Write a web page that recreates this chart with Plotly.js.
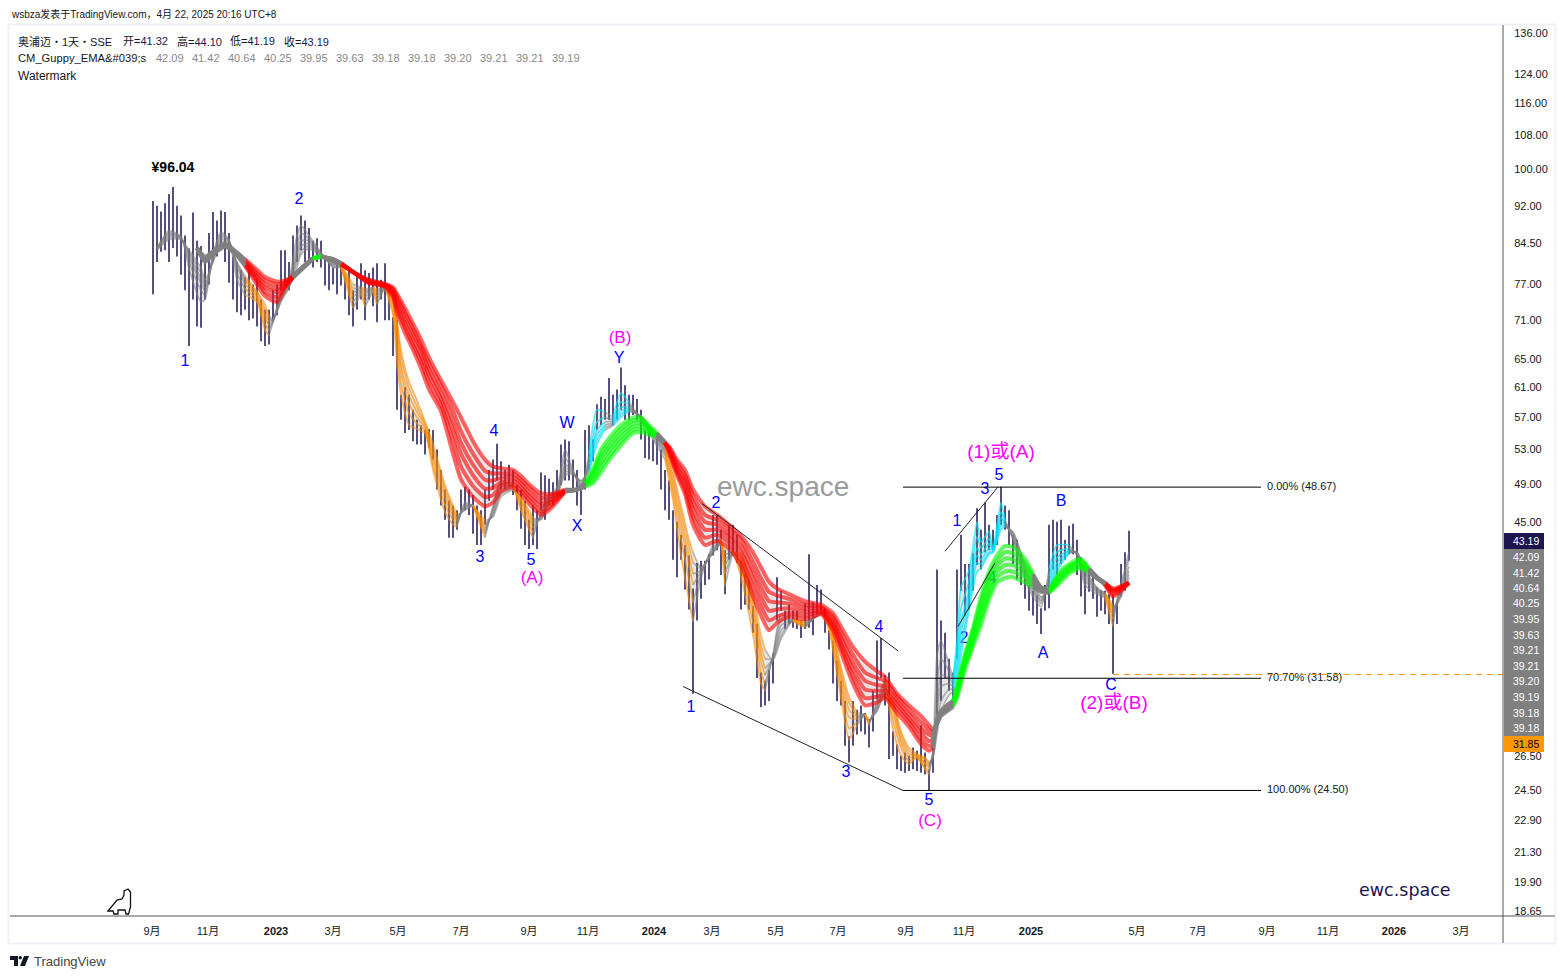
<!DOCTYPE html>
<html><head><meta charset="utf-8">
<script src="https://cdn.plot.ly/plotly-3.0.1.min.js"></script>
<style>html,body{margin:0;padding:0;background:#fff}#c{width:1565px;height:979px}</style>
</head><body><div id="c"></div>
<script>
// range bars: one entry per sample (about 2.5 trading days), starting Aug 2022
const barHigh=[93,92,90.8,92.5,94.5,96,92,90,86,83.5,90.6,85,84,81,86.5,90.7,89,91,90.7,86.5,82,81,79.5,78.2,79.5,77,77.8,74.4,72.7,72.7,76,77,83.2,83.2,81,86,88,90,89,87.5,85,85.5,85,82,81,80,81,80.2,78.7,80,76,78.7,80.8,79.5,79,80,80.8,77.8,80.8,77,71.5,71,60,61,60,58,56.7,56,55.4,55.5,55.4,53,50.6,48.4,47.2,46.7,46.2,48.4,48.7,48.4,47.8,46.7,46.2,48.4,50.6,51.8,53.7,51.6,50.6,51.2,50.6,48.9,48.4,47.2,45.2,46.7,46.2,50.3,50,49.6,49.2,50.6,53.6,54.2,54,51.8,50.6,49,55.4,56,54.2,58.7,59.7,59.4,62.3,60,60.7,63.8,61.3,60,60,59.4,58,55.4,56,54.2,55,53,50.6,49.4,46.2,45,43.7,42.7,41.7,38.7,41,41.2,41.2,41.8,45.7,45.7,44.2,42.2,44.7,44.7,43.7,41.2,39.9,39.5,37.2,35.7,32,31.4,32.2,33.4,39.7,38.5,36.8,37.3,36.8,36.8,36,37.4,41.8,37.5,39,38.6,37,35.2,34.4,32.9,31.4,30,27.7,30,29.4,29.7,29.2,28.5,30.7,34.4,34.6,31.8,32,28,27.2,26.5,26.7,26.5,27,26.8,28.4,26.7,25.7,27,40.4,36,35,33,32,40.4,43.7,40.9,40.9,41.9,46.4,44.2,47,44.7,44.2,45.7,48.7,46.7,46.2,43.7,43.2,41.8,40.4,39,38.5,38.1,37,39,44.7,45.2,45,45.2,43.2,44.6,44.8,43.2,41.5,40.9,40.4,39.8,38.8,38.5,38.5,38.2,38.2,37.6,40.9,42,44.1];
const barLow=[75.3,81,82.9,83.2,81,83.6,82,78.7,76,67,74.4,70,69.8,74.4,77,81,82,83.2,81,77.3,74.4,72.3,71.8,72.7,71,71.3,70,67.7,67,67.2,70.7,71.8,76,77,76,78.5,81,83.2,81,80.5,80,81,80,76.8,76,77,75.3,76.8,74.4,71.8,70,72.7,74.4,71,74.4,73.3,70.7,74.4,71,71,65.5,58,56.7,55,55.4,54,53.6,53.6,52.4,53.2,51.8,48.4,46.7,45.2,43.4,43.4,44.2,46,46.2,45.7,43.8,42.7,42.7,44.7,47.2,48.4,49.4,48.4,48.4,48.7,47.8,46.2,44.3,42.7,42.3,42.7,42.3,46.2,45.2,46.7,46.7,47.8,48.9,49.4,49.4,48.4,46.7,45.7,48.4,50.6,51.6,55.4,56,56.7,56.7,56,56.7,58,56.7,56.7,57.3,56.7,54.2,52,51.8,51.6,51.2,48.4,46.2,45.2,41.3,39.7,41.3,38.6,36.9,30.5,36,37.8,39,39.5,41.7,42.2,39.9,38.2,41.3,41.7,41,36.9,37.3,36.9,35,31.6,29.6,29.7,30,31.2,36,36.8,35.3,35.7,35.4,35.3,34.6,35.3,35.4,34.8,36.5,36.8,35,33.7,31.2,30,29.7,27.1,26.1,27.1,27.8,28,27.8,27,28,30.1,31.6,29.7,26.3,26.5,25.7,25.6,25.5,25.6,25.7,25.6,25.5,25.4,24.5,25.5,29.1,30,31.6,30.7,29.7,33,38.5,36.4,36.9,38.5,40.8,40.4,42,42.2,42.2,42.7,44.7,44.2,42.7,40.9,39.5,39,37.8,36.8,36.4,35.7,34.9,36.8,37,40.4,39.9,40.9,41.3,41.8,41.8,39.9,38,36.5,38.4,37.8,36.3,36.8,36.5,35.7,31.9,35.7,38,38.5,41.19];

// fast EMA group: [sample, ema1 .. ema6]
const fastEma=[
[1,83.7,83.6,83.6,83.5,83.4,83.2],[4,87,86.6,86.3,86,85.6,85.2],[7,85.8,85.7,85.6,85.5,85.4,85.2],[9,79.8,81,81.8,82.4,82.9,83.2],[12,74,76,77.2,78,79,80],[13,74.4,75.2,75.8,76.4,77,77.8],[15,82.5,82.2,81.8,81.5,81.2,81],[17,86.7,86.2,85.7,85.2,84.7,84.2],[19,85.2,85.1,85,84.8,84.6,84.2],[21,77.8,79,80,80.4,80.7,81],[23,75.2,76.2,77,77.6,78,78.5],[26,74,74.4,74.8,75.1,75.5,75.8],[28,69.4,70.4,71.3,72,72.8,73.6],[29,68.6,69.5,70.2,70.8,71.3,71.8],[30,70.7,70.8,70.9,71,71,71.1],[32,75.3,75,74.7,74.5,74.2,74],[34,77.8,77.4,77.1,76.9,76.6,76.4],[36,86,84,82.8,82,81,80],[37,88,86.4,85,84,83,82.4],[39,86,85.4,85,84.5,84,83.5],[42,82.8,82.6,82.4,82.3,82.2,82],[45,80,80.2,80.4,80.6,80.8,81],[47,80,80.1,80.2,80.3,80.4,80.6],[50,73,74,74.9,75.6,76.3,77],[52,75.3,75.6,75.9,76.1,76.3,76.5],[53,73.2,74,74.8,75.4,75.8,76.2],[55,75.8,76,76.2,76.3,76.4,76.5],[56,73.6,74.4,75,75.5,75.9,76.2],[58,76.5,76.5,76.5,76.6,76.6,76.6],[60,71.8,72.6,73.4,74,74.6,74.9],[61,64.5,66.5,68,69,70.2,71],[62,60,61.5,63,64,65.3,66.4],[64,56,57.5,58.8,59.8,60.8,61.8],[66,55.5,56.2,57,57.7,58.4,59.2],[68,55,55.3,55.6,55.9,56.2,56.5],[70,50.6,51.2,51.8,52.4,53,53.7],[73,46,46.8,47.5,48,48.5,48.9],[75,44.7,45.2,45.6,46,46.3,46.7],[76,44.5,44.7,45,45.2,45.4,45.7],[78,47,46.8,46.6,46.5,46.3,46.2],[80,46.7,46.7,46.7,46.7,46.7,46.7],[83,43.4,43.8,44.1,44.4,44.7,45.1],[85,46.7,46.4,46.1,45.9,45.7,45.5],[87,49.3,48.9,48.5,48.2,47.9,47.6],[90,48.9,48.8,48.7,48.6,48.5,48.4],[92,46.2,46.6,47,47.2,47.4,47.6],[95,43.4,43.9,44.4,44.8,45.1,45.4],[97,46,45.8,45.6,45.4,45.3,45.2],[99,47.8,47.5,47.3,47.1,47,46.9],[101,48.6,48.3,48.1,48,47.8,47.7],[103,53,52,51.2,50.8,50.4,50],[105,50.6,50.5,50.4,50.3,50.2,50.1],[107,48.4,48.7,48.9,49.1,49.3,49.4],[109,52.5,51.8,51.3,51,50.6,50.3],[111,58,56.4,55.4,54.8,54.2,53.6],[113,57.7,57,56.4,56,55.7,55.4],[115,57,56.7,56.5,56.3,56.1,55.9],[117,60.2,59,58.3,57.8,57.4,57],[119,59,58.7,58.4,58.2,58,57.8],[122,56.7,56.8,56.9,57,57.1,57.2],[125,54.2,54.5,54.7,54.9,55.1,55.2],[128,51.8,52.3,52.6,52.8,53,53.2],[130,47.2,48,48.6,49.2,49.8,50.3],[132,41.7,43.3,44.4,45.2,46,46.7],[134,37.7,39.5,40.8,41.6,42.5,43.2],[135,35.9,37.5,39,40,41,42],[137,39.6,40,40.2,40.3,40.5,40.6],[140,42.7,42.4,42.2,42.1,42,41.9],[142,43.4,43.3,43.1,43,42.9,42.9],[143,38.9,40,40.8,41.3,41.8,42.4],[145,42.2,42.1,42.1,42,42,41.9],[147,39.7,40.3,40.8,41.2,41.6,41.9],[150,34.8,35.8,36.6,37,37.6,38.2],[152,31.2,32,32.8,33.4,34,34.8],[153,30.7,31.2,31.8,32.3,33,33.7],[155,33.3,33.2,33.1,33,33,32.9],[157,36.5,36,35.6,35.2,34.8,34.5],[160,35.9,36,36,36,36.1,36.1],[163,35.4,35.5,35.6,35.7,35.8,35.9],[167,36.8,36.7,36.6,36.6,36.5,36.5],[169,35.2,35.5,35.8,35.9,36,36.2],[172,30.2,30.8,31.3,31.7,32,32.4],[174,27.5,28.2,28.9,29.4,29.9,30.3],[176,28.4,28.6,28.8,28.9,29,29.2],[178,29.1,29.1,29.1,29.1,29.1,29.1],[179,28.4,28.5,28.6,28.6,28.7,28.7],[181,30,29.8,29.6,29.5,29.4,29.3],[183,31.6,31.3,31.1,31,30.8,30.7],[185,28.1,28.7,29.2,29.6,29.8,30],[187,26.5,27,27.3,27.5,27.8,28],[189,26,26.2,26.4,26.6,26.8,27],[191,26.4,26.4,26.5,26.5,26.5,26.6],[193,25.7,25.8,26,26.1,26.3,26.4],[194,25.4,25.6,25.8,25.9,26,26.1],[195,26.8,26.7,26.6,26.5,26.4,26.4],[196,33.3,31,29.6,28.9,28.3,27.8],[197,34.4,33,31.8,31,30,29.3],[199,32.6,32.1,31.6,31.2,30.8,30.4],[200,31.6,31.4,31.2,31,30.8,30.6],[201,34.4,33.6,33,32.4,31.8,31.2],[202,38.8,37,35.8,35,34,33.2],[204,40.3,39.3,38.5,38,37.4,36.8],[206,45,43.5,42.4,41.7,41,40.2],[207,43,42.4,41.8,41.3,40.9,40.5],[209,44,43.3,42.8,42.4,42,41.8],[210,42.4,42.3,42.2,42.1,42,42],[212,47,46,45.4,45,44.6,44.2],[213,45.2,45,44.8,44.7,44.6,44.5],[215,43.2,43.4,43.5,43.7,43.9,44],[217,40.6,41,41.3,41.6,41.8,42],[219,38.6,38.9,39.2,39.4,39.7,39.9],[222,37.1,37.4,37.6,37.7,37.9,38],[224,40.4,39.8,39.4,39,38.7,38.4],[226,42.7,42,41.5,41,40.6,40.2],[229,42.7,42.4,42.2,42.1,42,41.9],[231,41.7,41.8,41.9,41.9,42,42],[233,39,39.4,39.7,40,40.2,40.4],[236,38.2,38.4,38.5,38.6,38.7,38.8],[238,37.9,38,38.1,38.2,38.3,38.3],[240,35.5,36.1,36.5,36.8,37,37.2],[241,37.7,37.6,37.5,37.5,37.4,37.3],[243,40.5,40.1,39.7,39.4,39.1,38.8],[244,42.09,41.42,40.64,40.25,39.95,39.63]];

// slow EMA group: [sample, ema1 .. ema6]
const slowEma=[
[11,83.6,83.6,83.6,83.6,83.6,83.6],[13,81,81.2,81.4,81.6,81.8,82],[15,82.4,82.5,82.6,82.7,82.9,83],[18,83.9,84,84.1,84.2,84.3,84.4],[21,82.2,82.3,82.4,82.5,82.6,82.8],[23,80.3,80.5,80.8,81,81.3,81.5],[26,77,77.6,78,78.5,79,79.6],[28,75,75.7,76.4,77,77.7,78.3],[31,74,74.8,75.7,76.3,77,77.5],[33,76.4,76.6,76.9,77.1,77.4,77.7],[35,78.2,78.2,78.3,78.3,78.4,78.5],[38,80.2,80.3,80.3,80.4,80.4,80.5],[40,81.6,81.6,81.6,81.7,81.7,81.7],[42,82.1,82.1,82.1,82.1,82,82],[45,81.2,81.3,81.3,81.4,81.5,81.6],[47,80.6,80.6,80.7,80.7,80.8,80.8],[50,79.2,79.2,79.2,79.2,79.2,79.2],[54,77.2,77.3,77.4,77.5,77.7,77.8],[58,76.6,76.7,76.8,76.9,77,77.1],[60,74.8,75.2,75.6,76,76.2,76.5],[61,72.2,72.9,73.6,74.2,74.9,75.4],[63,69,69.8,70.6,71.4,72.2,73],[65,66.4,67.2,68,68.9,69.7,70.5],[67,63.7,64.7,65.5,66.5,67,68],[69,60.7,61.7,62.7,63.5,64.4,65.3],[72,57.8,58.6,59.4,60.2,61.2,62],[75,52.5,54,55.3,56.5,57.8,59],[77,49.5,51,52.5,53.8,55.2,57],[80,47.6,48.8,50,51.2,52.5,54],[83,46.6,47.6,48.5,49.5,50.5,51.8],[85,47,47.8,48.6,49.4,50.2,51],[87,48.2,48.8,49.2,49.7,50.2,50.8],[90,48.7,49,49.4,49.8,50.2,50.6],[92,47.9,48.3,48.7,49.1,49.5,49.9],[94,46.9,47.3,47.7,48.1,48.6,49],[97,45.7,46.1,46.6,47,47.5,48],[99,46.2,46.5,46.9,47.2,47.6,47.9],[101,47.1,47.3,47.5,47.7,47.9,48.1],[103,48.2,48.2,48.3,48.3,48.3,48.4],[106,48.4,48.4,48.4,48.4,48.4,48.4],[108,49.2,49.1,49,48.9,48.8,48.7],[110,50.7,50.4,50.1,49.8,49.4,49.1],[112,53,52.5,52,51.4,50.9,50.3],[114,54.4,53.8,53.3,52.8,52.2,51.7],[117,56,55.5,55,54.5,54,53.5],[120,57,56.6,56.2,55.8,55.4,55],[122,57,56.6,56.3,55.9,55.5,55.1],[124,56,55.8,55.5,55.3,55.1,54.8],[126,55,54.9,54.8,54.7,54.6,54.5],[128,53.9,53.9,53.8,53.8,53.7,53.7],[129,52.6,52.7,52.9,53,53.2,53.4],[131,50,50.3,50.6,51,51.4,51.8],[133,47.9,48.4,49,49.5,50,50.6],[135,44.7,45.5,46.3,47,47.7,48.4],[138,42.7,43.4,44.2,45,45.7,46.6],[141,43.1,43.7,44.2,44.7,45.2,45.7],[144,42.4,42.9,43.4,43.8,44.3,44.7],[147,40.7,41.3,42,42.6,43.2,43.6],[150,38,38.8,39.6,40.3,41.1,42],[152,36.4,37.2,38,38.8,39.6,40.6],[154,35.2,36,36.8,37.6,38.4,39.3],[156,35.8,36.3,36.9,37.5,38.1,38.7],[159,36.3,36.6,37,37.4,37.8,38.2],[163,36.1,36.4,36.7,37,37.3,37.6],[167,36.5,36.7,36.8,37,37.1,37.3],[170,35.2,35.5,35.7,36,36.3,36.6],[172,33.5,33.9,34.2,34.6,35,35.5],[175,31.2,31.7,32.2,32.7,33.3,33.9],[178,29.7,30.2,30.8,31.4,32,32.8],[181,29.9,30.3,30.7,31.1,31.6,32.1],[183,30.2,30.4,30.7,31,31.4,31.7],[186,29.2,29.5,29.8,30,30.3,30.5],[189,28.3,28.6,28.8,29.1,29.4,29.7],[192,27.2,27.5,27.9,28.2,28.6,29],[194,26.8,27.1,27.4,27.8,28.1,28.4],[195,27,27.2,27.5,27.7,27.9,28.1],[196,28.7,28.7,28.6,28.6,28.5,28.5],[197,29.3,29.3,29.2,29.1,29.1,29],[199,29.8,29.8,29.7,29.6,29.5,29.4],[200,30,30,29.9,29.8,29.7,29.6],[201,31,30.9,30.7,30.6,30.4,30.2],[203,33.4,33.2,33,32.7,32.5,32.2],[205,35.4,35.2,34.9,34.6,34.2,33.9],[207,38,37.6,37.1,36.6,36.1,35.6],[209,40.2,39.7,39.2,38.7,38.2,37.7],[211,41.7,41.2,40.7,40.2,39.7,39.2],[213,42.6,42,41.4,40.8,40.2,39.6],[215,42.5,41.9,41.3,40.8,40.2,39.7],[218,41.4,41,40.6,40.1,39.7,39.2],[220,40,39.8,39.6,39.3,39.1,38.8],[222,38.8,38.8,38.7,38.6,38.5,38.4],[224,38.5,38.5,38.4,38.4,38.4,38.3],[225,39.2,39.1,39,38.9,38.7,38.6],[227,40.3,40.1,39.9,39.7,39.5,39.3],[229,40.9,40.7,40.5,40.4,40.2,40],[232,41.4,41.2,41.1,40.9,40.7,40.5],[234,40.5,40.4,40.4,40.3,40.2,40.1],[236,39.7,39.7,39.7,39.6,39.6,39.6],[238,39,39.1,39.1,39.1,39.2,39.2],[240,38,38.2,38.4,38.5,38.6,38.7],[242,38.5,38.6,38.7,38.8,38.8,38.9],[244,39.18,39.18,39.2,39.21,39.21,39.19]];

// colour phases: last sample of each phase
const fastPhaseEnd=[23,29,47,50,52,53,55,56,58,76,80,83,90,95,109,113,115,119,128,135,142,143,145,153,160,163,167,176,178,179,183,194,200,213,224,229,238,240,244];
const fastPhaseKind=['n','d','n','d','n','d','n','d','n','d','n','d','n','d','n','u','n','u','n','d','n','d','n','d','n','d','n','d','n','d','n','d','n','u','n','u','n','d','n'];
const slowPhaseEnd=[23,35,40,42,47,103,108,126,128,195,200,220,224,234,238,244];
const slowPhaseKind=['n','d','n','u','n','d','n','u','n','d','n','u','n','u','n','d'];

const priceTicks=[136,124,116,108,100,92,84.5,77,71,65,61,57,53,49,45,26.5,24.5,22.9,21.3,19.9,18.65];
const timeTickSamples=[-0.25,13.75,30.75,45,61.25,77,94,108.75,125.25,139.75,155.75,171.25,188.25,202.75,219.5,246,261.25,278.5,293.75,310.25,327];
const timeTickLabels=['9月','11月','<b>2023</b>','3月','5月','7月','9月','11月','<b>2024</b>','3月','5月','7月','9月','11月','<b>2025</b>','5月','7月','9月','11月','<b>2026</b>','3月'];

const waveText=['1','2','3','4','5','W','X','Y','2','1','3','4','5','1','2','3','4','5','A','B','C'];
const waveSample=[8,36.5,81.75,85.25,94.5,103.5,106,116.5,140.75,134.5,173.25,181.5,194,201,202.75,208,209.75,211.5,222.5,227,239.5];
const wavePrice=[64.6,93.3,41.5,55.2,41.2,56.2,44.5,65,46.9,29.5,25.5,35.4,23.9,45,34.5,48.4,39.5,49.9,33.4,47.1,31];
const degreeText=['(B)','(A)','(C)','(1)或(A)','(2)或(B)'];
const degreeSample=[116.75,94.75,194.25,212,240.25];
const degreePrice=[68.1,39.6,22.85,52.6,29.8];
const degreeSize=[17,17,17,19,19];

const fibPrice=[48.67,31.58,24.5];
const fibText=['0.00% (48.67)','70.70% (31.58)','100.00% (24.50)'];
const fibStart=187.5, fibEnd=277;
const trendSamples=[[137.25,186.25],[132.5,187.5],[198,211.25],[201.25,210.5]];
const trendPrices=[[46.9,33.6],[31,24.5],[42.1,48.7],[35.5,41]];
const lastPriceLine=31.85;

const badgeValues=['43.19','42.09','41.42','40.64','40.25','39.95','39.63','39.21','39.21','39.20','39.19','39.18','39.18','31.85'];
const emaHeader=['42.09','41.42','40.64','40.25','39.95','39.63','39.18','39.18','39.20','39.21','39.21','39.19'];
const ohlcLabels=['开','高','低','收'];
const ohlcValues=['41.32','44.10','41.19','43.19'];

const FONT='"Liberation Sans","Noto Sans CJK SC",sans-serif';
const INK='#131722', NAVY='#1e1450';
const COL={fast:{n:'rgba(128,128,128,0.55)',d:'rgba(255,140,0,0.6)',u:'rgba(0,230,255,0.65)'},
           slow:{n:'rgba(128,128,128,0.85)',d:'rgba(255,0,0,0.6)',u:'rgba(0,255,0,0.6)'}};
const W=1493,H=891,L=10,T=25;
const fx=p=>(p-L)/W, fy=p=>1-(p-T)/H;

const traces=[];
traces.push({type:'ohlc',x:barHigh.map((_,i)=>i),open:barLow,high:barHigh,low:barLow,close:barHigh,tickwidth:0,
  increasing:{line:{color:NAVY,width:1.5}},decreasing:{line:{color:NAVY,width:1.5}},hoverinfo:'skip',showlegend:false});

function seq(rows,key){return rows.map(r=>r[key]);}
function lineTrace(x,y,color,width,extra){return Object.assign({type:'scatter',mode:'lines',x,y,line:{color,width,shape:'spline',smoothing:0.6},hoverinfo:'skip',showlegend:false},extra||{});}
function ribbon(rows,ends,kinds,pal,width,fill){
  const xs=seq(rows,0);
  traces.push(lineTrace(xs,seq(rows,1),'rgba(0,0,0,0)',0));
  traces.push(lineTrace(xs,seq(rows,6),'rgba(0,0,0,0)',0,{fill:'tonexty',fillcolor:fill}));
  for(let c=6;c>=1;c--){
    let start=-1e9;
    ends.forEach((end,k)=>{
      const part=rows.map((r,n)=>({r,n})).filter(o=>o.r[0]>start&&o.r[0]<=end);
      if(part.length){
        const first=part[0].n>0?[rows[part[0].n-1]]:[];
        const seg=first.concat(part.map(o=>o.r));
        traces.push(lineTrace(seq(seg,0),seq(seg,c),pal[kinds[k]],width));
      }
      start=end;
    });
  }
}
// wave labels sit under the ribbons
traces.push({type:'scatter',mode:'text',x:waveSample,y:wavePrice,text:waveText,textposition:'middle center',
  textfont:{family:FONT,size:16,color:'#0000ff'},hoverinfo:'skip',showlegend:false});
traces.push({type:'scatter',mode:'text',x:degreeSample,y:degreePrice,text:degreeText,textposition:'middle center',
  textfont:{family:FONT,size:degreeSize,color:'#ff00ff'},hoverinfo:'skip',showlegend:false});
ribbon(fastEma,fastPhaseEnd,fastPhaseKind,COL.fast,1.7,'rgba(128,128,128,0.2)');
ribbon(slowEma,slowPhaseEnd,slowPhaseKind,COL.slow,4,'rgba(128,128,128,0.2)');

fibPrice.forEach(p=>traces.push({type:'scatter',mode:'lines',x:[fibStart,fibEnd],y:[p,p],line:{color:'#000',width:1},hoverinfo:'skip',showlegend:false}));
traces.push({type:'scatter',mode:'text',x:fibPrice.map(()=>fibEnd+1.5),y:fibPrice,text:fibText,textposition:'middle right',
  textfont:{family:FONT,size:11,color:INK},hoverinfo:'skip',showlegend:false});
trendSamples.forEach((xs,i)=>traces.push({type:'scatter',mode:'lines',x:xs,y:trendPrices[i],line:{color:'#222',width:1},hoverinfo:'skip',showlegend:false}));
traces.push({type:'scatter',mode:'lines',x:[240,337.5],y:[lastPriceLine,lastPriceLine],line:{color:'#ff9800',width:1,dash:'6px,5px'},hoverinfo:'skip',showlegend:false});
traces.push({type:'scatter',mode:'text',x:[5],y:[100],text:['<b>¥96.04</b>'],textposition:'middle center',textfont:{family:FONT,size:14,color:'#000'},hoverinfo:'skip',showlegend:false});

const shapes=[], annotations=[];
const note=(x,y,text,size,color,extra)=>annotations.push(Object.assign({xref:'paper',yref:'paper',x:fx(x),y:fy(y),text,showarrow:false,xanchor:'left',yanchor:'middle',font:{family:FONT,size,color},borderpad:0},extra||{}));

// frame and axis lines
shapes.push({type:'rect',xref:'paper',yref:'paper',x0:fx(8.5),x1:fx(1555.5),y0:fy(24.5),y1:fy(943.5),line:{color:'#eef1f6',width:2},layer:'below'});
shapes.push({type:'line',xref:'paper',yref:'paper',x0:fx(10),x1:fx(1555),y0:fy(916),y1:fy(916),line:{color:'#555',width:1}});
shapes.push({type:'line',xref:'paper',yref:'paper',x0:fx(1503),x1:fx(1503),y0:fy(25),y1:fy(943),line:{color:'#555',width:1}});

// last-value badges
const badgeCentre=[541,557,573,588,603,619,635,650,666,681,697,713,728,744];
badgeValues.forEach((v,i)=>{
  const fill=i===0?NAVY:(i===badgeValues.length-1?'#ff9800':'#808080');
  const txt=i===badgeValues.length-1?'#000':'#fff';
  shapes.push({type:'rect',xref:'paper',yref:'paper',x0:fx(1504),x1:fx(1544),y0:fy(badgeCentre[i]-8),y1:fy(badgeCentre[i]+8),line:{width:0},fillcolor:fill});
  note(1512,badgeCentre[i],v,10.5,txt);
});

// header text
note(10,14,'wsbza发表于TradingView.com，4月 22, 2025 20:16 UTC+8',10,INK);
note(17,41,'奥浦迈・1天・SSE',11,INK);
const ohlcX=[122,176,229,283];
ohlcLabels.forEach((t,i)=>note(ohlcX[i],41,`${t}=<span style="color:${NAVY}">${ohlcValues[i]}</span>`,11,INK));
note(17,58,'CM_Guppy_EMA&amp;#039;s',11.2,INK);
emaHeader.forEach((v,i)=>note(155+i*36,58,v,11,'#888'));
note(17,76,'Watermark',12,INK);
note(716,486,'ewc.space',28,'#9b9b9b');
note(1358,890,'ewc.space',17.5,NAVY,{font:{family:'"DejaVu Sans"',size:17.5,color:NAVY}});
note(33,961,'TradingView',13,'#444');

// small marks (dino and logo)
const poly=pts=>pts.map((p,i)=>(i?'L':'M')+fx(p[0])+' '+fy(p[1])).join(' ')+' Z';
shapes.push({type:'path',xref:'paper',yref:'paper',path:poly([[108,911],[117,900],[122,899],[124,895],[124,891],[128,889],[130.5,892],[130.5,907],[128.5,914],[126,914],[125,910],[118,910],[118,914],[114,914],[113,911]]),line:{color:'#111',width:1.3},fillcolor:'#fff'});
shapes.push({type:'path',xref:'paper',yref:'paper',path:poly([[10,956],[18,956],[18,966],[14,966],[14,960],[10,960]]),line:{width:0},fillcolor:'#131722'});
shapes.push({type:'path',xref:'paper',yref:'paper',path:poly([[24,956],[29,956],[25,966],[20,966]]),line:{width:0},fillcolor:'#131722'});
shapes.push({type:'circle',xref:'paper',yref:'paper',x0:fx(18.6),x1:fx(22),y0:fy(956),y1:fy(959.4),line:{width:0},fillcolor:'#131722'});

const layout={width:1565,height:979,margin:{l:L,r:62,t:T,b:63,pad:0},paper_bgcolor:'#fff',plot_bgcolor:'#fff',showlegend:false,
  font:{family:FONT,color:INK},
  xaxis:{type:'linear',range:[-35.75,337.5],showgrid:false,zeroline:false,showline:false,rangeslider:{visible:false},
    tickmode:'array',tickvals:timeTickSamples,ticktext:timeTickLabels,tickfont:{family:FONT,size:11,color:INK},ticks:'outside',ticklen:5,tickcolor:'rgba(0,0,0,0)',tickangle:0},
  yaxis:{type:'log',side:'right',range:[Math.log10(18.44),Math.log10(138.5)],showgrid:false,zeroline:false,showline:false,
    tickmode:'array',tickvals:priceTicks,ticktext:priceTicks.map(v=>v.toFixed(2)),tickfont:{family:FONT,size:11,color:INK},ticks:'outside',ticklen:8,tickcolor:'rgba(0,0,0,0)'},
  shapes,annotations};
Plotly.newPlot('c',traces,layout,{staticPlot:true,displayModeBar:false});
</script></body></html>
